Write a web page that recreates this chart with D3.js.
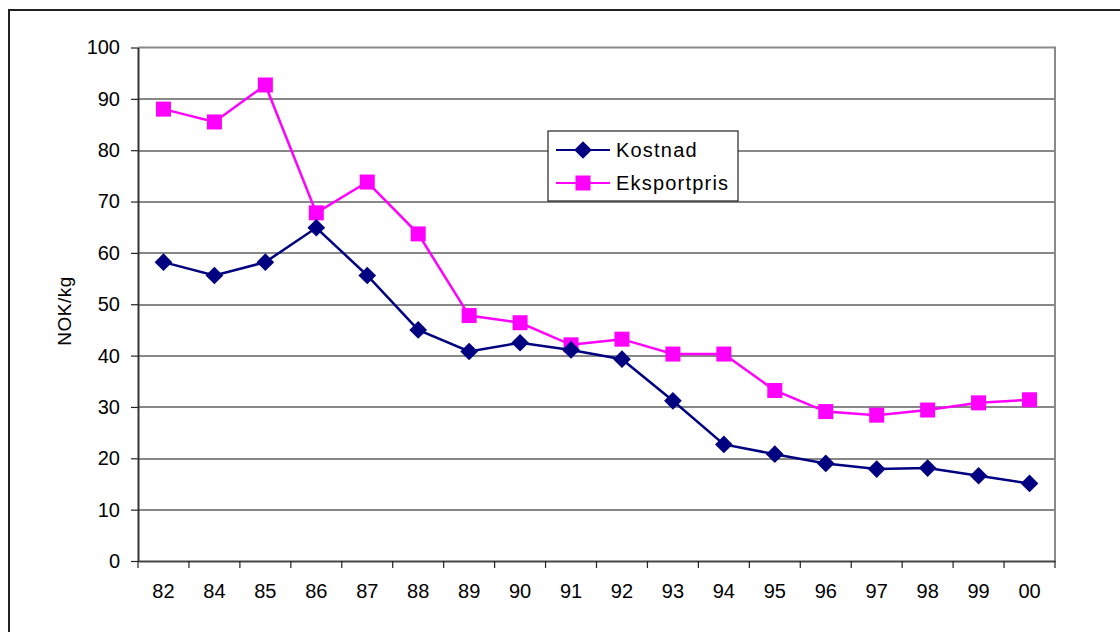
<!DOCTYPE html>
<html>
<head>
<meta charset="utf-8">
<script src="https://cdn.jsdelivr.net/npm/d3@7/dist/d3.min.js"></script>
<style>
  body { margin: 0; background: #fff; }
  svg { display: block; font-family: "Liberation Sans", Arial, Helvetica, sans-serif; }
</style>
</head>
<body>
<div id="chart"></div>
<script>
// år (kategorier)
var years = ["82", "84", "85", "86", "87", "88", "89", "90", "91", "92", "93", "94", "95", "96", "97", "98", "99", "00"];

// Kostnad, NOK/kg
var kostnad = [58.2, 55.6, 58.2, 64.9, 55.6, 45.0, 40.8, 42.5, 41.1, 39.3, 31.2, 22.7, 20.8, 19.0, 17.9, 18.1, 16.6, 15.1];

// Eksportpris, NOK/kg
var eksportpris = [88.0, 85.5, 92.7, 67.8, 73.8, 63.7, 47.8, 46.4, 42.1, 43.2, 40.3, 40.3, 33.2, 29.1, 28.4, 29.4, 30.8, 31.4];

var yTicks = [0, 10, 20, 30, 40, 50, 60, 70, 80, 90, 100];

var W = 1120, H = 632;
var margin = {top: 47.5, right: 65, bottom: 71, left: 138};
var width = W - margin.left - margin.right;
var height = H - margin.top - margin.bottom;

var svg = d3.select("#chart")
    .append("svg")
    .attr("width", W)
    .attr("height", H);

// ytre ramme
svg.append("rect")
    .attr("x", 9)
    .attr("y", 10)
    .attr("width", W + 20)
    .attr("height", H + 20)
    .attr("fill", "none")
    .attr("stroke", "#222")
    .attr("stroke-width", 2);

var g = svg.append("g")
    .attr("transform", "translate(" + margin.left + "," + margin.top + ")");

var x = d3.scaleBand().domain(years).range([0, width]).padding(0);
var y = d3.scaleLinear().domain([0, 100]).range([height, 0]);

function cx(d, i) { return x(years[i]) + x.bandwidth() / 2; }

// rutenett
g.append("g")
    .selectAll("line")
    .data(yTicks.filter(function(t) { return t > 0 && t < 100; }))
    .join("line")
    .attr("x1", 0)
    .attr("x2", width)
    .attr("y1", function(d) { return Math.round(y(d)) + 0.5; })
    .attr("y2", function(d) { return Math.round(y(d)) + 0.5; })
    .attr("stroke", "#111")
    .attr("stroke-width", 1);

// plottramme topp og høyre
g.append("line")
    .attr("x1", 0).attr("x2", width)
    .attr("y1", 0).attr("y2", 0)
    .attr("stroke", "#8a8a8a").attr("stroke-width", 2);
g.append("line")
    .attr("x1", width).attr("x2", width)
    .attr("y1", -1).attr("y2", height)
    .attr("stroke", "#8a8a8a").attr("stroke-width", 2);

// x-akse
var xAxis = g.append("g")
    .attr("transform", "translate(0," + height + ")")
    .call(d3.axisBottom(x).tickSize(0).tickPadding(23));
xAxis.select(".domain").attr("stroke", "#444").attr("stroke-width", 2);
xAxis.selectAll("text").attr("font-size", 20).attr("fill", "#000");

// x-streker ved kategorigrenser
xAxis.append("g")
    .selectAll("line")
    .data(years.concat(["end"]))
    .join("line")
    .attr("x1", function(d) { return d === "end" ? width : x(d); })
    .attr("x2", function(d) { return d === "end" ? width : x(d); })
    .attr("y1", 0)
    .attr("y2", 7)
    .attr("stroke", "#222")
    .attr("stroke-width", 1.2);

// y-akse
var yAxis = g.append("g")
    .call(d3.axisLeft(y).tickValues(yTicks).tickSize(7).tickSizeOuter(0).tickPadding(11));
yAxis.select(".domain").attr("stroke", "#333").attr("stroke-width", 2);
yAxis.selectAll(".tick line").attr("stroke", "#222").attr("stroke-width", 1.2);
yAxis.selectAll("text").attr("font-size", 20).attr("fill", "#000");

// y-tittel
svg.append("text")
    .attr("transform", "translate(71,311) rotate(-90)")
    .attr("text-anchor", "middle")
    .attr("font-size", 19)
    .attr("letter-spacing", "0.5px")
    .attr("fill", "#000")
    .text("NOK/kg");

var line = d3.line()
    .x(cx)
    .y(function(d) { return y(d); });

// Eksportpris
g.append("path")
    .datum(eksportpris)
    .attr("fill", "none")
    .attr("stroke", "#ff00ff")
    .attr("stroke-width", 2.5)
    .attr("d", line);

g.append("g")
    .selectAll("rect")
    .data(eksportpris)
    .join("rect")
    .attr("x", function(d, i) { return cx(d, i) - 7.5; })
    .attr("y", function(d) { return y(d) - 7.5; })
    .attr("width", 15)
    .attr("height", 15)
    .attr("fill", "#ff00ff");

// Kostnad
g.append("path")
    .datum(kostnad)
    .attr("fill", "none")
    .attr("stroke", "#000080")
    .attr("stroke-width", 2.5)
    .attr("d", line);

var diamond = d3.symbol().type(d3.symbolDiamond2).size(200);
g.append("g")
    .selectAll("path")
    .data(kostnad)
    .join("path")
    .attr("transform", function(d, i) { return "translate(" + cx(d, i) + "," + y(d) + ")"; })
    .attr("d", diamond)
    .attr("fill", "#000080");

// forklaring
var legend = svg.append("g").attr("transform", "translate(548,131)");
legend.append("rect")
    .attr("x", 0).attr("y", 0)
    .attr("width", 190).attr("height", 70)
    .attr("fill", "#fff")
    .attr("stroke", "#222")
    .attr("stroke-width", 1.2);

var items = [
    {name: "Kostnad", color: "#000080", shape: "diamond"},
    {name: "Eksportpris", color: "#ff00ff", shape: "square"}
];

var row = legend.selectAll("g.item")
    .data(items)
    .join("g")
    .attr("class", "item")
    .attr("transform", function(d, i) { return "translate(0," + (19 + i * 33) + ")"; });

row.append("line")
    .attr("x1", 8).attr("x2", 62)
    .attr("y1", 0).attr("y2", 0)
    .attr("stroke", function(d) { return d.color; })
    .attr("stroke-width", 2);

row.filter(function(d) { return d.shape === "diamond"; })
    .append("path")
    .attr("transform", "translate(35,0)")
    .attr("d", diamond)
    .attr("fill", function(d) { return d.color; });

row.filter(function(d) { return d.shape === "square"; })
    .append("rect")
    .attr("x", 35 - 7.5).attr("y", -7.5)
    .attr("width", 15).attr("height", 15)
    .attr("fill", function(d) { return d.color; });

row.append("text")
    .attr("x", 68)
    .attr("dy", "0.36em")
    .attr("font-size", 20)
    .attr("letter-spacing", "1.2px")
    .attr("fill", "#000")
    .text(function(d) { return d.name; });
</script>
</body>
</html>
